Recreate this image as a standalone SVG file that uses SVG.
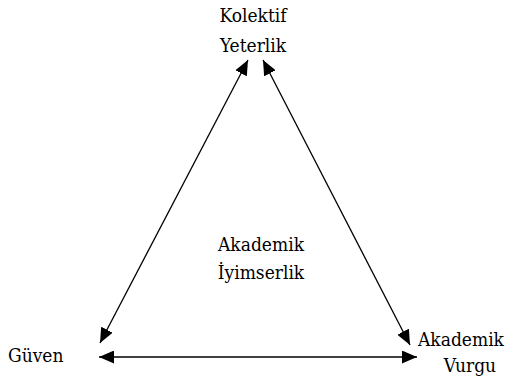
<svg xmlns="http://www.w3.org/2000/svg" width="528" height="382" viewBox="0 0 528 382">
<style>
.c line{stroke:#000;stroke-width:1.3;fill:none}
</style>
<defs>
<marker id="ah" viewBox="0 0 15 13" refX="15" refY="6.5" markerWidth="15" markerHeight="13" markerUnits="userSpaceOnUse" orient="auto-start-reverse">
<path d="M0,0 L15,6.5 L0,13 Z" fill="#000"/>
</marker>
</defs>
<rect width="528" height="382" fill="#fff"/>
<g font-family="DejaVu Serif, serif" font-stretch="condensed" font-size="19" fill="#000">
<g id="kolektif"><text x="253" y="22" text-anchor="middle">Kolektif</text><text x="253" y="52" text-anchor="middle">Yeterlik</text></g>
<g id="guven"><text x="8" y="362">Güven</text></g>
<g id="vurgu"><text x="418" y="346">Akademik</text><text x="470" y="372" text-anchor="middle">Vurgu</text></g>
<g id="iyimserlik"><text x="261" y="251" text-anchor="middle">Akademik</text><text x="261" y="279" text-anchor="middle">İyimserlik</text></g>
</g>
<g class="c" id="connectors">
<line x1="248" y1="60" x2="100" y2="343" marker-start="url(#ah)" marker-end="url(#ah)"/>
<line x1="263" y1="60" x2="410" y2="345" marker-start="url(#ah)" marker-end="url(#ah)"/>
<line x1="99" y1="357" x2="417" y2="357" marker-start="url(#ah)" marker-end="url(#ah)"/>
</g>
</svg>
